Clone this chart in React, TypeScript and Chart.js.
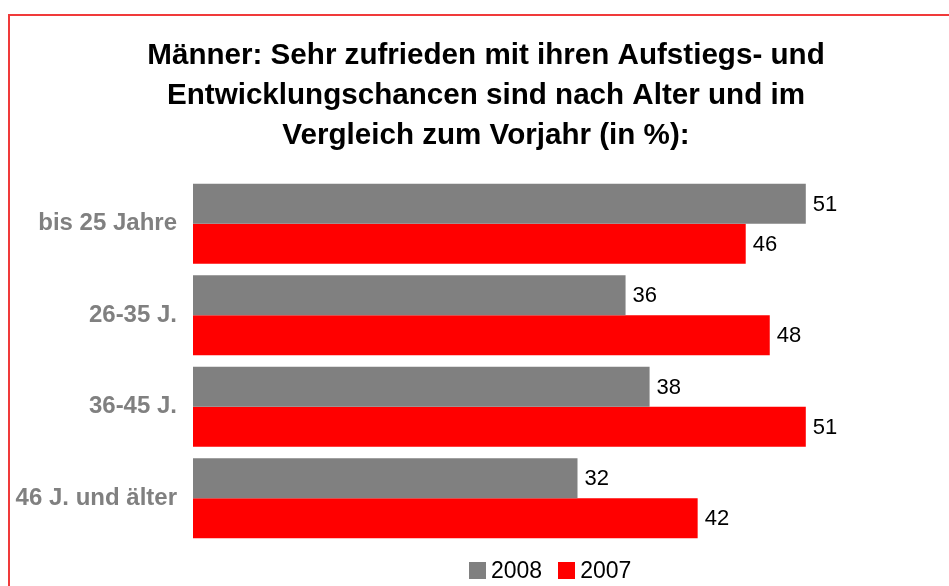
import React, { useEffect, useRef } from "react";
import { Chart, registerables } from "chart.js";

Chart.register(...registerables);

const titleLines = [
  "Männer: Sehr zufrieden mit ihren Aufstiegs- und",
  "Entwicklungschancen sind nach Alter und im",
  "Vergleich zum Vorjahr (in %):",
];
const categories = ["bis 25 Jahre", "26-35 J.", "36-45 J.", "46 J. und älter"];
const values2008 = [51, 36, 38, 32];
const values2007 = [46, 48, 51, 42];
const seriesLabels = ["2008", "2007"];
const seriesColors = ["#808080", "#ff0000"];

const FONT = "'Liberation Sans', Arial, Helvetica, sans-serif";

const valueLabels = {
  id: "valueLabels",
  afterDatasetsDraw(chart: any) {
    const ctx = chart.ctx;
    ctx.save();
    ctx.font = `22px ${FONT}`;
    ctx.fillStyle = "#000000";
    ctx.textAlign = "left";
    ctx.textBaseline = "middle";
    chart.data.datasets.forEach((ds: any, i: number) => {
      const meta = chart.getDatasetMeta(i);
      meta.data.forEach((el: any, j: number) => {
        ctx.fillText(String(ds.data[j]), el.x + 7, el.y + 1);
      });
    });
    ctx.restore();
  },
};

export default function App() {
  const ref = useRef<HTMLCanvasElement | null>(null);
  useEffect(() => {
    if (!ref.current) return;
    const chart = new Chart(ref.current, {
      type: "bar",
      data: {
        labels: categories,
        datasets: [
          {
            label: seriesLabels[0],
            data: values2008,
            backgroundColor: seriesColors[0],
            borderWidth: 0,
          },
          {
            label: seriesLabels[1],
            data: values2007,
            backgroundColor: seriesColors[1],
            borderWidth: 0,
          },
        ],
      },
      options: {
        indexAxis: "y",
        responsive: false,
        animation: false,
        devicePixelRatio: 1,
        layout: { padding: { left: 0, right: 0, top: 0, bottom: 42 } },
        datasets: {
          bar: { categoryPercentage: 0.874, barPercentage: 1 },
        },
        scales: {
          x: {
            display: false,
            min: 0,
            max: 64,
          },
          y: {
            grid: { display: false, drawTicks: false },
            border: { display: false },
            ticks: {
              padding: 16,
              color: "#808080",
              font: { family: FONT, size: 24, weight: "bold" },
            },
            afterFit(scale: any) {
              scale.width = 183;
            },
          },
        },
        plugins: {
          title: {
            display: true,
            text: titleLines,
            color: "#000000",
            font: { family: FONT, size: 29.6, weight: "bold", lineHeight: "40px" },
            padding: { top: 20, bottom: 22 },
          },
          legend: { display: false },
          tooltip: { enabled: false },
        },
      },
      plugins: [valueLabels],
    } as any);
    return () => chart.destroy();
  }, []);

  return (
    <div
      style={{
        position: "fixed",
        left: 8,
        top: 14,
        right: 0,
        bottom: 0,
        borderTop: "2px solid #f03a3a",
        borderLeft: "2px solid #f03a3a",
        overflow: "hidden",
        background: "#ffffff",
      }}
    >
      <canvas ref={ref} width={952} height={570} style={{ display: "block" }} />
      <div
        style={{
          position: "absolute",
          left: 459,
          top: 542,
          height: 24,
          display: "flex",
          alignItems: "center",
          fontFamily: FONT,
          fontSize: 23,
          lineHeight: "24px",
          color: "#000000",
          whiteSpace: "nowrap",
        }}
      >
        {seriesLabels.map((lab, i) => (
          <div
            key={lab}
            style={{ display: "flex", alignItems: "center", marginRight: i === 0 ? 16 : 0 }}
          >
            <span
              style={{
                display: "inline-block",
                width: 17,
                height: 17,
                background: seriesColors[i],
                marginRight: 5,
              }}
            />
            <span>{lab}</span>
          </div>
        ))}
      </div>
    </div>
  );
}
